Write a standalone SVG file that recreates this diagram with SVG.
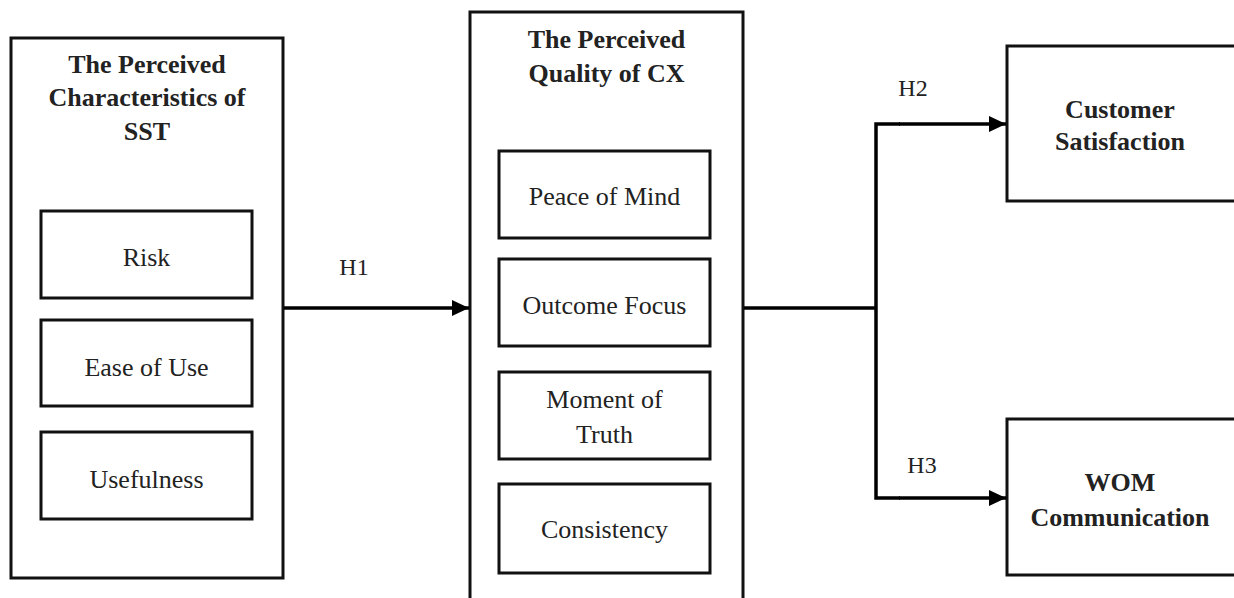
<svg xmlns="http://www.w3.org/2000/svg" width="1234" height="598" viewBox="0 0 1234 598">
<style>
rect{fill:#fff;stroke:#111;stroke-width:3}
text{font-family:'Liberation Serif','DejaVu Serif',serif;fill:#222;text-anchor:middle;font-size:26px}
.b{font-weight:bold;font-size:26px}
.l{font-size:24px}
.c{fill:none;stroke:#000;stroke-width:3.5}
</style>
<defs>
<marker id="ah" markerWidth="17" markerHeight="16" refX="17" refY="8" orient="auto" markerUnits="userSpaceOnUse">
<path d="M0,0 L17,8 L0,16 Z" fill="#000"/>
</marker>
</defs>
<rect x="0" y="0" width="1234" height="598" style="fill:#fff;stroke:none"/>
<g id="sst">
<rect x="11" y="38" width="272" height="540"/>
<text class="b" x="147" y="73">The Perceived</text>
<text class="b" x="147" y="106">Characteristics of</text>
<text class="b" x="147" y="140">SST</text>
</g>
<g id="risk"><rect x="41" y="211" width="211" height="87"/><text x="146.5" y="266">Risk</text></g>
<g id="ease"><rect x="41" y="320" width="211" height="86"/><text x="146.5" y="376">Ease of Use</text></g>
<g id="useful"><rect x="41" y="432" width="211" height="87"/><text x="146.5" y="488">Usefulness</text></g>
<g id="cx">
<rect x="470" y="12" width="273" height="600"/>
<text class="b" x="606.5" y="48">The Perceived</text>
<text class="b" x="606.5" y="82">Quality of CX</text>
</g>
<g id="peace"><rect x="499" y="151" width="211" height="87"/><text x="604.5" y="205">Peace of Mind</text></g>
<g id="outcome"><rect x="499" y="259" width="211" height="87"/><text x="604.5" y="314">Outcome Focus</text></g>
<g id="moment"><rect x="499" y="372" width="211" height="87"/><text x="604.5" y="408">Moment of</text><text x="604.5" y="443">Truth</text></g>
<g id="consistency"><rect x="499" y="484" width="211" height="89"/><text x="604.5" y="538">Consistency</text></g>
<g id="satisfaction">
<rect x="1007" y="46" width="240" height="155"/>
<text class="b" x="1120" y="118">Customer</text>
<text class="b" x="1120" y="150">Satisfaction</text>
</g>
<g id="wom">
<rect x="1007" y="419" width="240" height="156"/>
<text class="b" x="1120" y="491">WOM</text>
<text class="b" x="1120" y="526">Communication</text>
</g>
<g id="connectors">
<line class="c" x1="284" y1="308" x2="469" y2="308" marker-end="url(#ah)"/>
<line class="c" x1="744" y1="308" x2="876" y2="308"/>
<polyline class="c" points="900,124 876,124 876,498 900,498"/>
<line class="c" x1="899" y1="124" x2="1006" y2="124" marker-end="url(#ah)"/>
<line class="c" x1="899" y1="498" x2="1006" y2="498" marker-end="url(#ah)"/>
<text class="l" x="354" y="275">H1</text>
<text class="l" x="913" y="96">H2</text>
<text class="l" x="922" y="473">H3</text>
</g>
</svg>
